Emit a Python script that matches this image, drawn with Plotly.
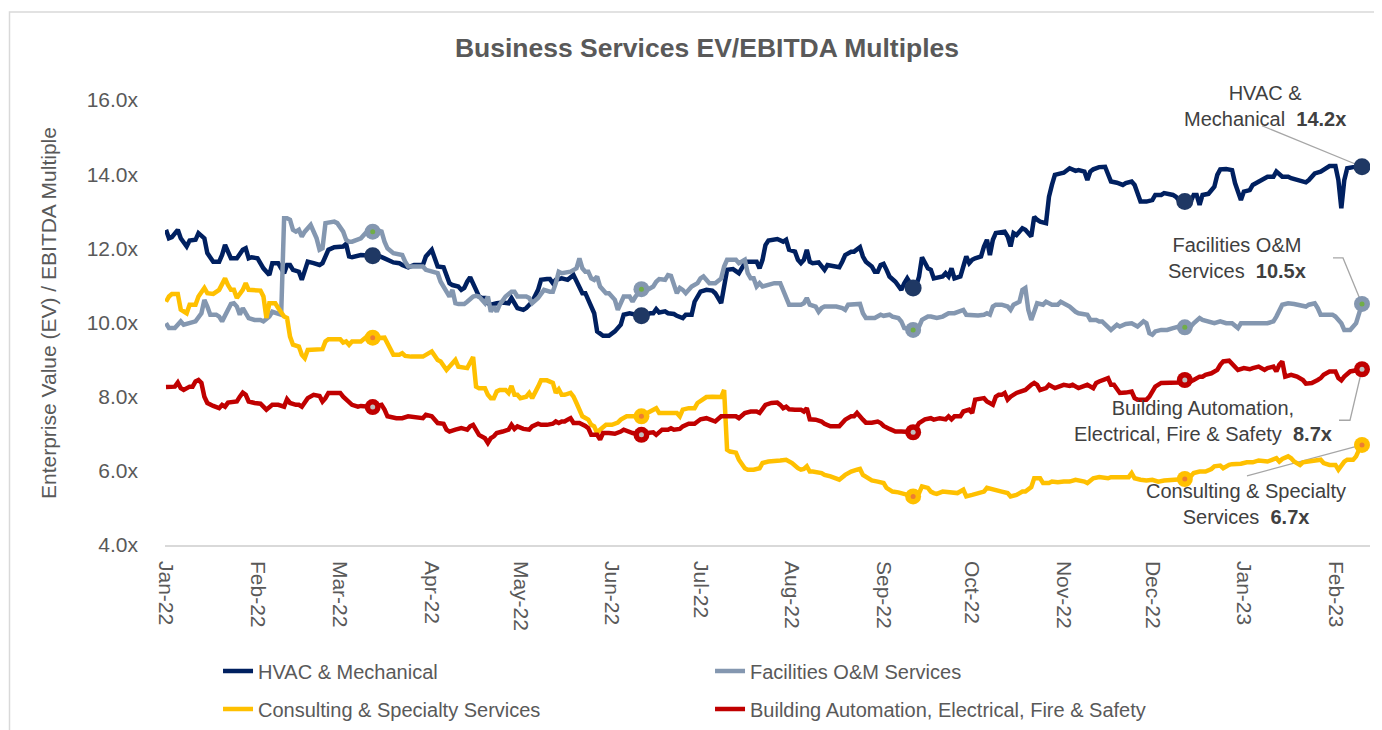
import plotly.graph_objects as go

# ---------------- data ----------------
HVAC = [
("2022-01-01",12.50),("2022-01-02",12.27),("2022-01-03",12.30),("2022-01-05",12.50),("2022-01-06",12.27),
("2022-01-08",12.05),("2022-01-09",12.21),("2022-01-11",12.23),("2022-01-12",12.41),("2022-01-14",12.27),
("2022-01-15",11.87),("2022-01-17",11.64),("2022-01-19",11.64),("2022-01-20",11.82),("2022-01-21",12.09),
("2022-01-22",11.87),("2022-01-23",11.73),("2022-01-25",11.73),("2022-01-27",11.96),("2022-01-28",12.00),
("2022-01-29",11.73),("2022-01-30",11.76),("2022-02-01",11.73),("2022-02-03",11.46),("2022-02-05",11.28),
("2022-02-06",11.60),("2022-02-08",11.60),("2022-02-09",11.46),("2022-02-10",11.33),("2022-02-11",11.55),
("2022-02-12",11.55),("2022-02-13",11.42),("2022-02-15",11.37),("2022-02-16",11.15),("2022-02-17",11.42),
("2022-02-18",11.64),("2022-02-20",11.60),("2022-02-22",11.55),("2022-02-23",11.60),("2022-02-24",11.78),
("2022-02-25",11.96),("2022-02-27",12.03),("2022-03-02",12.05),("2022-03-03",12.12),("2022-03-04",11.78),
("2022-03-05",11.76),("2022-03-08",11.82),("2022-03-12",11.80),("2022-03-14",11.80),("2022-03-16",11.73),
("2022-03-17",11.69),("2022-03-19",11.62),("2022-03-21",11.60),("2022-03-22",11.55),("2022-03-24",11.49),
("2022-03-26",11.55),("2022-03-29",11.55),("2022-03-30",11.78),("2022-04-01",11.96),("2022-04-02",11.73),
("2022-04-03",11.51),("2022-04-05",11.49),("2022-04-06",11.28),("2022-04-07",11.06),("2022-04-08",11.01),
("2022-04-10",10.97),("2022-04-11",10.88),("2022-04-12",10.93),("2022-04-13",11.10),("2022-04-14",11.22),
("2022-04-16",10.88),("2022-04-17",10.70),("2022-04-18",10.66),("2022-04-19",10.66),("2022-04-20",10.52),
("2022-04-21",10.48),("2022-04-23",10.52),("2022-04-25",10.54),("2022-04-27",10.52),("2022-04-28",10.66),
("2022-04-30",10.39),("2022-05-02",10.34),("2022-05-03",10.39),("2022-05-05",10.56),("2022-05-07",10.88),
("2022-05-08",11.15),("2022-05-10",11.17),("2022-05-11",11.17),("2022-05-12",11.06),("2022-05-13",11.15),
("2022-05-15",11.19),("2022-05-17",11.15),("2022-05-19",11.28),("2022-05-20",11.10),("2022-05-21",10.97),
("2022-05-22",10.79),("2022-05-23",10.79),("2022-05-24",10.61),("2022-05-25",10.48),("2022-05-26",10.25),
("2022-05-27",9.76),("2022-05-29",9.64),("2022-05-31",9.64),("2022-06-02",9.76),("2022-06-04",9.94),
("2022-06-05",10.21),("2022-06-07",10.25),("2022-06-11",10.18),("2022-06-14",10.25),("2022-06-15",10.25),
("2022-06-16",10.36),("2022-06-17",10.27),("2022-06-19",10.30),("2022-06-20",10.25),("2022-06-22",10.23),
("2022-06-23",10.18),("2022-06-25",10.12),("2022-06-26",10.21),("2022-06-28",10.21),("2022-06-29",10.56),
("2022-07-01",10.83),("2022-07-03",10.88),("2022-07-05",10.86),("2022-07-06",10.79),("2022-07-08",10.52),
("2022-07-09",11.06),("2022-07-10",11.42),("2022-07-12",11.44),("2022-07-14",11.33),("2022-07-16",11.60),
("2022-07-17",11.64),("2022-07-20",11.64),("2022-07-21",11.46),("2022-07-22",11.69),("2022-07-23",12.09),
("2022-07-24",12.21),("2022-07-26",12.23),("2022-07-27",12.25),("2022-07-29",12.18),("2022-07-30",12.23),
("2022-07-31",11.96),("2022-08-02",11.91),("2022-08-03",11.69),("2022-08-04",11.60),("2022-08-05",11.69),
("2022-08-06",11.96),("2022-08-07",11.64),("2022-08-08",11.60),("2022-08-10",11.62),("2022-08-11",11.51),
("2022-08-12",11.42),("2022-08-13",11.55),("2022-08-15",11.51),("2022-08-17",11.49),("2022-08-18",11.64),
("2022-08-19",11.82),("2022-08-21",11.91),("2022-08-22",11.91),("2022-08-24",12.03),("2022-08-25",11.78),
("2022-08-26",11.64),("2022-08-28",11.51),("2022-08-29",11.37),("2022-08-30",11.37),("2022-08-31",11.55),
("2022-09-01",11.58),("2022-09-02",11.42),("2022-09-03",11.24),("2022-09-05",11.10),("2022-09-07",10.88),
("2022-09-08",11.06),("2022-09-09",11.19),("2022-09-10",11.06),("2022-09-11",10.93),("2022-09-12",10.97),
("2022-09-13",11.24),("2022-09-14",11.76),("2022-09-15",11.60),("2022-09-16",11.46),("2022-09-17",11.42),
("2022-09-18",11.19),("2022-09-21",11.24),("2022-09-22",11.33),("2022-09-23",11.24),("2022-09-24",11.46),
("2022-09-25",11.19),("2022-09-27",11.24),("2022-09-28",11.51),("2022-09-29",11.78),("2022-09-30",11.60),
("2022-10-01",11.69),("2022-10-02",11.73),("2022-10-04",11.78),("2022-10-05",12.05),("2022-10-06",12.23),
("2022-10-07",11.82),("2022-10-08",12.23),("2022-10-09",12.41),("2022-10-12",12.45),("2022-10-13",12.32),
("2022-10-14",12.05),("2022-10-15",12.41),("2022-10-16",12.36),("2022-10-18",12.54),("2022-10-19",12.50),
("2022-10-21",12.32),("2022-10-22",12.85),("2022-10-23",12.77),("2022-10-24",12.72),("2022-10-26",12.68),
("2022-10-27",13.39),("2022-10-28",13.71),("2022-10-29",13.98),("2022-10-31",14.02),("2022-11-01",14.04),
("2022-11-03",14.16),("2022-11-05",14.09),("2022-11-06",14.11),("2022-11-08",14.07),("2022-11-09",13.84),
("2022-11-10",14.07),("2022-11-11",14.13),("2022-11-13",14.19),("2022-11-15",14.20),("2022-11-16",14.02),
("2022-11-17",13.80),("2022-11-19",13.77),("2022-11-21",13.71),("2022-11-22",13.76),("2022-11-24",13.80),
("2022-11-25",13.71),("2022-11-26",13.44),("2022-11-27",13.26),("2022-11-29",13.26),("2022-12-01",13.30),
("2022-12-02",13.44),("2022-12-04",13.44),("2022-12-05",13.49),("2022-12-08",13.44),("2022-12-09",13.39),
("2022-12-10",13.30),("2022-12-12",13.26),("2022-12-14",13.26),("2022-12-15",13.44),("2022-12-16",13.44),
("2022-12-17",13.17),("2022-12-18",13.44),("2022-12-20",13.47),("2022-12-22",13.66),("2022-12-23",13.98),
("2022-12-24",14.13),("2022-12-26",14.14),("2022-12-28",14.11),("2022-12-29",13.76),("2022-12-31",13.30),
("2023-01-01",13.53),("2023-01-03",13.57),("2023-01-04",13.71),("2023-01-05",13.76),("2023-01-07",13.86),
("2023-01-09",13.93),("2023-01-11",13.93),("2023-01-12",14.07),("2023-01-14",13.93),("2023-01-16",13.93),
("2023-01-17",13.89),("2023-01-19",13.84),("2023-01-21",13.80),("2023-01-22",13.78),("2023-01-23",13.84),
("2023-01-25",14.02),("2023-01-27",14.07),("2023-01-29",14.19),("2023-01-30",14.22),("2023-02-01",14.22),
("2023-02-02",13.84),("2023-02-03",13.08),("2023-02-04",13.84),("2023-02-05",14.16),("2023-02-07",14.19),
("2023-02-10",14.20),
]

FACILITIES = [
("2022-01-01",9.98),("2022-01-02",9.85),("2022-01-04",9.85),("2022-01-05",9.94),("2022-01-06",10.03),
("2022-01-07",9.94),("2022-01-09",9.98),("2022-01-10",9.98),("2022-01-11",10.03),("2022-01-13",10.25),
("2022-01-14",10.61),("2022-01-15",10.43),("2022-01-16",10.21),("2022-01-18",10.21),("2022-01-19",10.16),
("2022-01-20",10.03),("2022-01-21",10.21),("2022-01-22",10.39),("2022-01-23",10.50),("2022-01-24",10.52),
("2022-01-25",10.43),("2022-01-26",10.21),("2022-01-27",10.39),("2022-01-28",10.25),("2022-01-29",10.12),
("2022-01-31",10.07),("2022-02-02",10.07),("2022-02-03",10.03),("2022-02-05",10.16),("2022-02-06",10.29),
("2022-02-08",10.25),("2022-02-09",10.21),("2022-02-10",12.81),("2022-02-11",12.81),("2022-02-12",12.77),
("2022-02-13",12.50),("2022-02-14",12.45),("2022-02-15",12.50),("2022-02-16",12.32),("2022-02-17",12.45),
("2022-02-19",12.63),("2022-02-20",12.41),("2022-02-21",12.27),("2022-02-22",11.96),("2022-02-23",12.00),
("2022-02-24",12.68),("2022-02-26",12.72),("2022-02-27",12.72),("2022-02-28",12.68),("2022-03-02",12.45),
("2022-03-03",12.23),("2022-03-04",12.18),("2022-03-05",12.18),("2022-03-07",12.23),("2022-03-08",12.27),
("2022-03-10",12.45),("2022-03-12",12.45),("2022-03-13",12.50),("2022-03-15",12.45),("2022-03-16",12.18),
("2022-03-17",12.00),("2022-03-19",11.87),("2022-03-20",11.85),("2022-03-22",11.82),("2022-03-23",11.64),
("2022-03-24",11.51),("2022-03-26",11.51),("2022-03-29",11.51),("2022-03-30",11.42),("2022-04-01",11.37),
("2022-04-03",11.33),("2022-04-04",11.10),("2022-04-06",10.79),("2022-04-07",10.70),("2022-04-08",10.88),
("2022-04-09",10.52),("2022-04-10",10.50),("2022-04-12",10.50),("2022-04-13",10.56),("2022-04-15",10.70),
("2022-04-16",10.72),("2022-04-17",10.70),("2022-04-19",10.52),("2022-04-20",10.70),("2022-04-21",10.29),
("2022-04-22",10.43),("2022-04-23",10.29),("2022-04-24",10.48),("2022-04-26",10.70),("2022-04-28",10.83),
("2022-04-29",10.83),("2022-04-30",10.70),("2022-05-01",10.70),("2022-05-03",10.70),("2022-05-04",10.66),
("2022-05-05",10.52),("2022-05-07",10.66),("2022-05-08",10.79),("2022-05-09",10.88),("2022-05-11",10.83),
("2022-05-12",10.83),("2022-05-13",11.06),("2022-05-14",11.37),("2022-05-15",11.33),("2022-05-17",11.35),
("2022-05-18",11.37),("2022-05-20",11.46),("2022-05-21",11.73),("2022-05-22",11.46),("2022-05-23",11.37),
("2022-05-24",11.37),("2022-05-25",11.19),("2022-05-26",11.15),("2022-05-27",11.24),("2022-05-28",10.97),
("2022-05-30",10.79),("2022-05-31",10.79),("2022-06-02",10.61),("2022-06-03",10.34),("2022-06-04",10.56),
("2022-06-05",10.70),("2022-06-07",10.70),("2022-06-08",10.56),("2022-06-09",10.70),("2022-06-11",10.90),
("2022-06-13",10.88),("2022-06-15",10.97),("2022-06-16",11.10),("2022-06-17",11.17),("2022-06-19",11.15),
("2022-06-20",11.28),("2022-06-21",11.26),("2022-06-22",11.06),("2022-06-23",10.79),("2022-06-24",10.93),
("2022-06-25",10.88),("2022-06-26",10.79),("2022-06-28",10.97),("2022-06-30",11.06),("2022-07-01",11.19),
("2022-07-02",11.24),("2022-07-04",11.06),("2022-07-06",11.06),("2022-07-08",11.19),("2022-07-09",11.51),
("2022-07-10",11.69),("2022-07-13",11.69),("2022-07-14",11.60),("2022-07-16",11.69),("2022-07-17",11.33),
("2022-07-18",11.19),("2022-07-19",11.19),("2022-07-20",10.97),("2022-07-21",11.06),("2022-07-22",10.97),
("2022-07-24",11.01),("2022-07-26",11.06),("2022-07-28",11.06),("2022-07-29",10.88),("2022-07-30",10.70),
("2022-07-31",10.48),("2022-08-01",10.48),("2022-08-04",10.48),("2022-08-05",10.52),("2022-08-06",10.66),
("2022-08-07",10.48),("2022-08-09",10.43),("2022-08-10",10.29),("2022-08-11",10.39),("2022-08-12",10.43),
("2022-08-14",10.43),("2022-08-16",10.43),("2022-08-18",10.39),("2022-08-19",10.34),("2022-08-20",10.48),
("2022-08-22",10.50),("2022-08-24",10.50),("2022-08-25",10.25),("2022-08-26",10.12),("2022-08-29",10.12),
("2022-08-30",10.16),("2022-08-31",10.21),("2022-09-01",10.18),("2022-09-03",10.21),("2022-09-04",10.16),
("2022-09-06",10.12),("2022-09-07",10.03),("2022-09-08",9.85),("2022-09-11",9.80),("2022-09-13",9.89),
("2022-09-14",10.07),("2022-09-16",10.16),("2022-09-17",10.16),("2022-09-19",10.12),("2022-09-21",10.16),
("2022-09-23",10.25),("2022-09-25",10.25),("2022-09-27",10.29),("2022-09-28",10.34),("2022-09-29",10.21),
("2022-10-01",10.19),("2022-10-03",10.19),("2022-10-05",10.21),("2022-10-06",10.25),("2022-10-07",10.21),
("2022-10-08",10.43),("2022-10-09",10.48),("2022-10-11",10.48),("2022-10-13",10.43),("2022-10-14",10.34),
("2022-10-15",10.48),("2022-10-17",10.56),("2022-10-18",10.88),("2022-10-19",10.93),("2022-10-20",10.34),
("2022-10-21",10.07),("2022-10-22",10.29),("2022-10-23",10.52),("2022-10-25",10.48),("2022-10-26",10.56),
("2022-10-28",10.48),("2022-10-30",10.48),("2022-10-31",10.56),("2022-11-02",10.48),("2022-11-03",10.43),
("2022-11-05",10.29),("2022-11-06",10.25),("2022-11-09",10.21),("2022-11-10",10.07),("2022-11-12",10.07),
("2022-11-13",10.03),("2022-11-14",10.03),("2022-11-16",9.89),("2022-11-17",9.80),("2022-11-19",9.94),
("2022-11-20",9.89),("2022-11-22",9.96),("2022-11-24",9.98),("2022-11-26",9.89),("2022-11-28",10.03),
("2022-11-29",9.98),("2022-11-30",9.71),("2022-12-01",9.67),("2022-12-02",9.76),("2022-12-04",9.80),
("2022-12-06",9.80),("2022-12-08",9.85),("2022-12-10",9.89),("2022-12-12",9.87),("2022-12-14",9.89),
("2022-12-15",9.98),("2022-12-17",10.12),("2022-12-18",10.07),("2022-12-20",10.03),("2022-12-22",9.98),
("2022-12-24",10.03),("2022-12-26",9.98),("2022-12-28",9.98),("2022-12-30",9.85),("2022-12-31",9.98),
("2023-01-02",9.98),("2023-01-04",9.98),("2023-01-06",10.00),("2023-01-09",9.98),("2023-01-11",10.03),
("2023-01-12",10.16),("2023-01-14",10.48),("2023-01-16",10.52),("2023-01-18",10.50),("2023-01-20",10.48),
("2023-01-22",10.43),("2023-01-23",10.48),("2023-01-25",10.52),("2023-01-26",10.39),("2023-01-27",10.21),
("2023-01-29",10.21),("2023-01-31",10.21),("2023-02-01",10.16),("2023-02-03",9.98),("2023-02-04",9.80),
("2023-02-06",9.80),("2023-02-08",9.98),("2023-02-09",10.29),("2023-02-10",10.50),
]

CONSULTING = [
("2022-01-01",10.56),("2022-01-02",10.70),("2022-01-03",10.77),("2022-01-05",10.77),("2022-01-06",10.35),
("2022-01-07",10.29),("2022-01-08",10.25),("2022-01-09",10.48),("2022-01-11",10.48),("2022-01-12",10.70),
("2022-01-14",10.93),("2022-01-15",10.79),("2022-01-17",10.77),("2022-01-19",10.88),("2022-01-20",11.06),
("2022-01-21",11.19),("2022-01-22",11.01),("2022-01-23",10.88),("2022-01-24",10.88),("2022-01-25",10.66),
("2022-01-27",10.88),("2022-01-28",11.06),("2022-01-29",10.88),("2022-01-31",10.86),("2022-02-02",10.86),
("2022-02-03",10.70),("2022-02-04",10.12),("2022-02-05",10.52),("2022-02-07",10.52),("2022-02-08",10.39),
("2022-02-10",10.16),("2022-02-11",10.12),("2022-02-12",9.62),("2022-02-13",9.40),("2022-02-15",9.35),
("2022-02-16",9.13),("2022-02-17",9.04),("2022-02-18",9.26),("2022-02-21",9.26),("2022-02-23",9.28),
("2022-02-24",9.49),("2022-02-25",9.55),("2022-03-01",9.55),("2022-03-02",9.46),("2022-03-03",9.49),
("2022-03-04",9.40),("2022-03-05",9.49),("2022-03-08",9.49),("2022-03-10",9.62),("2022-03-12",9.59),
("2022-03-14",9.58),("2022-03-16",9.59),("2022-03-17",9.44),("2022-03-18",9.26),("2022-03-19",9.13),
("2022-03-21",9.13),("2022-03-22",9.17),("2022-03-23",9.10),("2022-03-25",9.08),("2022-03-29",9.08),
("2022-04-01",9.22),("2022-04-03",8.99),("2022-04-04",8.95),("2022-04-06",8.72),("2022-04-09",8.99),
("2022-04-10",8.81),("2022-04-12",8.77),("2022-04-13",8.77),("2022-04-15",9.07),("2022-04-16",8.27),
("2022-04-17",8.23),("2022-04-19",8.23),("2022-04-20",8.05),("2022-04-21",7.96),("2022-04-22",7.96),
("2022-04-23",8.14),("2022-04-24",8.18),("2022-04-26",8.18),("2022-04-27",8.10),("2022-04-28",8.29),
("2022-04-29",8.05),("2022-04-30",8.05),("2022-05-01",7.96),("2022-05-03",8.00),("2022-05-04",8.10),
("2022-05-05",7.96),("2022-05-07",8.27),("2022-05-08",8.44),("2022-05-10",8.44),("2022-05-12",8.37),
("2022-05-13",8.10),("2022-05-14",8.20),("2022-05-15",8.05),("2022-05-16",8.05),("2022-05-18",8.10),
("2022-05-19",8.00),("2022-05-20",7.83),("2022-05-21",7.65),("2022-05-22",7.47),("2022-05-24",7.38),
("2022-05-25",7.24),("2022-05-26",7.20),("2022-05-27",7.02),("2022-05-28",7.11),("2022-05-30",7.24),
("2022-06-01",7.24),("2022-06-03",7.30),("2022-06-04",7.38),("2022-06-06",7.47),("2022-06-09",7.47),
("2022-06-11",7.47),("2022-06-13",7.56),("2022-06-15",7.65),("2022-06-16",7.69),("2022-06-17",7.56),
("2022-06-19",7.56),("2022-06-22",7.58),("2022-06-23",7.56),("2022-06-24",7.47),("2022-06-25",7.65),
("2022-06-27",7.69),("2022-06-29",7.69),("2022-06-30",7.83),("2022-07-02",7.96),("2022-07-03",7.99),
("2022-07-05",8.00),("2022-07-06",8.00),("2022-07-08",7.99),("2022-07-09",8.18),("2022-07-10",6.57),
("2022-07-11",6.52),("2022-07-13",6.49),("2022-07-14",6.30),("2022-07-16",6.07),("2022-07-17",6.03),
("2022-07-19",6.03),("2022-07-21",6.07),("2022-07-22",6.21),("2022-07-24",6.25),("2022-07-26",6.25),
("2022-07-28",6.28),("2022-07-30",6.30),("2022-07-31",6.25),("2022-08-01",6.21),("2022-08-03",6.07),
("2022-08-04",6.03),("2022-08-05",6.05),("2022-08-06",6.12),("2022-08-07",5.98),("2022-08-08",5.98),
("2022-08-11",5.94),("2022-08-12",5.89),("2022-08-14",5.85),("2022-08-16",5.80),("2022-08-17",5.76),
("2022-08-19",5.89),("2022-08-21",5.98),("2022-08-23",6.03),("2022-08-24",6.05),("2022-08-25",5.89),
("2022-08-27",5.80),("2022-08-28",5.74),("2022-08-30",5.71),("2022-09-01",5.67),("2022-09-02",5.54),
("2022-09-04",5.44),("2022-09-06",5.42),("2022-09-08",5.38),("2022-09-11",5.31),("2022-09-13",5.40),
("2022-09-14",5.58),("2022-09-16",5.54),("2022-09-17",5.44),("2022-09-18",5.40),("2022-09-19",5.38),
("2022-09-21",5.44),("2022-09-23",5.42),("2022-09-26",5.40),("2022-09-28",5.49),("2022-09-29",5.31),
("2022-10-01",5.35),("2022-10-03",5.40),("2022-10-05",5.44),("2022-10-06",5.54),("2022-10-08",5.49),
("2022-10-10",5.44),("2022-10-11",5.44),("2022-10-13",5.40),("2022-10-14",5.31),("2022-10-16",5.35),
("2022-10-18",5.44),("2022-10-19",5.44),("2022-10-21",5.56),("2022-10-22",5.80),("2022-10-24",5.80),
("2022-10-25",5.67),("2022-10-27",5.67),("2022-10-28",5.71),("2022-10-30",5.69),("2022-11-01",5.71),
("2022-11-03",5.71),("2022-11-05",5.76),("2022-11-07",5.74),("2022-11-08",5.71),("2022-11-09",5.67),
("2022-11-11",5.80),("2022-11-13",5.83),("2022-11-16",5.80),("2022-11-17",5.83),("2022-11-19",5.83),
("2022-11-21",5.80),("2022-11-23",5.83),("2022-11-24",5.94),("2022-11-25",5.80),("2022-11-27",5.76),
("2022-11-29",5.74),("2022-12-01",5.76),("2022-12-03",5.71),("2022-12-05",5.74),("2022-12-07",5.76),
("2022-12-08",5.74),("2022-12-10",5.76),("2022-12-12",5.78),("2022-12-14",5.85),("2022-12-15",5.94),
("2022-12-17",5.98),("2022-12-19",5.98),("2022-12-21",6.05),("2022-12-22",6.12),("2022-12-24",6.14),
("2022-12-25",6.07),("2022-12-27",6.16),("2022-12-28",6.18),("2022-12-31",6.19),("2023-01-02",6.23),
("2023-01-04",6.23),("2023-01-06",6.28),("2023-01-09",6.25),("2023-01-11",6.30),("2023-01-12",6.34),
("2023-01-13",6.25),("2023-01-14",6.32),("2023-01-16",6.39),("2023-01-17",6.34),("2023-01-18",6.25),
("2023-01-20",6.16),("2023-01-21",6.23),("2023-01-23",6.25),("2023-01-25",6.30),("2023-01-26",6.28),
("2023-01-27",6.30),("2023-01-28",6.21),("2023-01-30",6.16),("2023-02-01",6.16),("2023-02-02",6.03),
("2023-02-04",6.25),("2023-02-05",6.30),("2023-02-07",6.30),("2023-02-08",6.39),("2023-02-09",6.57),
("2023-02-10",6.70),
]

BUILDING = [
("2022-01-01",8.26),("2022-01-02",8.26),("2022-01-04",8.27),("2022-01-05",8.38),("2022-01-06",8.23),
("2022-01-07",8.18),("2022-01-09",8.27),("2022-01-10",8.27),("2022-01-11",8.41),("2022-01-12",8.45),
("2022-01-13",8.37),("2022-01-14",8.00),("2022-01-15",7.83),("2022-01-17",7.75),("2022-01-19",7.69),
("2022-01-20",7.78),("2022-01-21",7.73),("2022-01-22",7.84),("2022-01-23",7.84),("2022-01-25",7.87),
("2022-01-26",8.00),("2022-01-27",8.11),("2022-01-28",8.05),("2022-01-29",7.87),("2022-01-31",7.83),
("2022-02-02",7.81),("2022-02-04",7.65),("2022-02-05",7.73),("2022-02-06",7.78),("2022-02-08",7.78),
("2022-02-10",7.73),("2022-02-11",7.93),("2022-02-12",7.83),("2022-02-14",7.78),("2022-02-15",7.78),
("2022-02-16",7.73),("2022-02-17",7.87),("2022-02-18",7.96),("2022-02-20",8.05),("2022-02-22",8.02),
("2022-02-23",7.87),("2022-02-24",7.96),("2022-02-25",8.10),("2022-02-27",8.11),("2022-03-01",8.10),
("2022-03-02",8.00),("2022-03-04",7.83),("2022-03-05",7.78),("2022-03-07",7.73),("2022-03-08",7.75),
("2022-03-12",7.72),("2022-03-14",7.75),("2022-03-15",7.78),("2022-03-16",7.65),("2022-03-17",7.47),
("2022-03-20",7.42),("2022-03-22",7.42),("2022-03-24",7.47),("2022-03-26",7.45),("2022-03-29",7.42),
("2022-03-30",7.51),("2022-04-01",7.47),("2022-04-03",7.29),("2022-04-05",7.27),("2022-04-06",7.11),
("2022-04-07",7.06),("2022-04-09",7.11),("2022-04-11",7.15),("2022-04-12",7.13),("2022-04-13",7.11),
("2022-04-14",7.20),("2022-04-15",7.24),("2022-04-17",6.97),("2022-04-18",6.93),("2022-04-19",6.88),
("2022-04-20",6.75),("2022-04-21",6.88),("2022-04-22",6.93),("2022-04-23",7.02),("2022-04-25",7.06),
("2022-04-27",7.11),("2022-04-28",7.24),("2022-04-29",7.13),("2022-04-30",7.20),("2022-05-02",7.13),
("2022-05-04",7.11),("2022-05-05",7.20),("2022-05-07",7.27),("2022-05-08",7.24),("2022-05-10",7.24),
("2022-05-12",7.27),("2022-05-13",7.33),("2022-05-14",7.29),("2022-05-15",7.33),("2022-05-16",7.33),
("2022-05-17",7.38),("2022-05-18",7.42),("2022-05-19",7.29),("2022-05-21",7.29),("2022-05-23",7.21),
("2022-05-24",7.15),("2022-05-25",6.97),("2022-05-27",6.97),("2022-05-28",6.84),("2022-05-29",7.02),
("2022-05-31",7.02),("2022-06-02",7.00),("2022-06-04",7.06),("2022-06-05",7.11),("2022-06-08",7.02),
("2022-06-11",6.97),("2022-06-13",7.02),("2022-06-15",7.04),("2022-06-16",6.97),("2022-06-18",7.11),
("2022-06-20",7.11),("2022-06-21",7.15),("2022-06-22",7.11),("2022-06-24",7.13),("2022-06-25",7.20),
("2022-06-27",7.27),("2022-06-29",7.27),("2022-06-30",7.33),("2022-07-01",7.39),("2022-07-03",7.42),
("2022-07-04",7.38),("2022-07-06",7.33),("2022-07-08",7.47),("2022-07-10",7.48),("2022-07-12",7.47),
("2022-07-13",7.47),("2022-07-14",7.42),("2022-07-15",7.51),("2022-07-16",7.56),("2022-07-18",7.60),
("2022-07-20",7.60),("2022-07-21",7.56),("2022-07-22",7.65),("2022-07-23",7.78),("2022-07-25",7.83),
("2022-07-27",7.84),("2022-07-28",7.78),("2022-07-29",7.69),("2022-07-30",7.73),("2022-07-31",7.66),
("2022-08-02",7.65),("2022-08-04",7.65),("2022-08-05",7.60),("2022-08-06",7.69),("2022-08-07",7.39),
("2022-08-09",7.38),("2022-08-11",7.33),("2022-08-12",7.27),("2022-08-14",7.20),("2022-08-16",7.18),
("2022-08-17",7.20),("2022-08-19",7.38),("2022-08-21",7.47),("2022-08-22",7.47),("2022-08-23",7.56),
("2022-08-25",7.38),("2022-08-26",7.30),("2022-08-28",7.30),("2022-08-30",7.33),("2022-08-31",7.29),
("2022-09-01",7.21),("2022-09-03",7.13),("2022-09-05",7.06),("2022-09-07",7.06),("2022-09-09",7.04),
("2022-09-11",7.04),("2022-09-12",7.15),("2022-09-13",7.29),("2022-09-15",7.39),("2022-09-17",7.42),
("2022-09-18",7.38),("2022-09-20",7.42),("2022-09-22",7.39),("2022-09-23",7.47),("2022-09-24",7.39),
("2022-09-25",7.47),("2022-09-27",7.47),("2022-09-28",7.60),("2022-09-30",7.65),("2022-10-01",7.56),
("2022-10-02",7.92),("2022-10-04",7.96),("2022-10-05",7.96),("2022-10-06",7.87),("2022-10-08",7.78),
("2022-10-09",8.00),("2022-10-10",8.05),("2022-10-11",8.05),("2022-10-12",8.10),("2022-10-13",7.92),
("2022-10-14",8.00),("2022-10-16",8.10),("2022-10-18",8.14),("2022-10-19",8.18),("2022-10-21",8.32),
("2022-10-22",8.37),("2022-10-23",8.32),("2022-10-24",8.18),("2022-10-26",8.23),("2022-10-27",8.32),
("2022-10-29",8.23),("2022-10-30",8.27),("2022-11-01",8.32),("2022-11-03",8.29),("2022-11-04",8.32),
("2022-11-06",8.23),("2022-11-08",8.27),("2022-11-09",8.32),("2022-11-11",8.23),("2022-11-12",8.37),
("2022-11-13",8.41),("2022-11-15",8.45),("2022-11-16",8.50),("2022-11-17",8.32),("2022-11-18",8.32),
("2022-11-20",8.10),("2022-11-21",8.10),("2022-11-22",8.11),("2022-11-24",8.14),("2022-11-25",7.96),
("2022-11-26",7.92),("2022-11-29",7.92),("2022-11-30",8.00),("2022-12-01",8.14),("2022-12-02",8.27),
("2022-12-04",8.37),("2022-12-06",8.37),("2022-12-08",8.37),("2022-12-10",8.38),("2022-12-12",8.45),
("2022-12-14",8.41),("2022-12-15",8.45),("2022-12-17",8.54),("2022-12-18",8.54),("2022-12-19",8.59),
("2022-12-21",8.63),("2022-12-23",8.72),("2022-12-24",8.86),("2022-12-25",8.95),("2022-12-27",8.97),
("2022-12-28",8.90),("2022-12-30",8.72),("2023-01-01",8.77),("2023-01-03",8.74),("2023-01-04",8.77),
("2023-01-06",8.81),("2023-01-08",8.72),("2023-01-09",8.77),("2023-01-11",8.81),("2023-01-12",8.68),
("2023-01-13",8.86),("2023-01-14",8.95),("2023-01-15",8.54),("2023-01-17",8.59),("2023-01-19",8.54),
("2023-01-21",8.45),("2023-01-22",8.35),("2023-01-24",8.37),("2023-01-26",8.45),("2023-01-27",8.50),
("2023-01-28",8.59),("2023-01-30",8.68),("2023-02-01",8.68),("2023-02-02",8.50),("2023-02-03",8.44),
("2023-02-04",8.54),("2023-02-06",8.68),("2023-02-08",8.72),("2023-02-10",8.74),
]

SERIES_NAMES = ["HVAC & Mechanical", "Facilities O&M Services",
                "Consulting & Specialty Services", "Building Automation, Electrical, Fire & Safety"]
MARKER_DATES = ["2022-03-12", "2022-06-11", "2022-09-11", "2022-12-12", "2023-02-10"]
TICK_DATES = ["2022-01-01", "2022-02-01", "2022-03-01", "2022-04-01", "2022-05-01", "2022-06-01",
              "2022-07-01", "2022-08-01", "2022-09-01", "2022-10-01", "2022-11-01", "2022-12-01",
              "2023-01-01", "2023-02-01"]
TICK_LABELS = ["Jan-22", "Feb-22", "Mar-22", "Apr-22", "May-22", "Jun-22", "Jul-22", "Aug-22",
               "Sep-22", "Oct-22", "Nov-22", "Dec-22", "Jan-23", "Feb-23"]
Y_TICKS = [4, 6, 8, 10, 12, 14, 16]
Y_LABELS = ["4.0x", "6.0x", "8.0x", "10.0x", "12.0x", "14.0x", "16.0x"]
CALLOUT_TEXT = ["HVAC &<br>Mechanical  <b>14.2x</b>",
                "Facilities O&M<br>Services  <b>10.5x</b>",
                "Consulting & Specialty<br>Services  <b>6.7x</b>",
                "Building Automation,<br>Electrical, Fire & Safety  <b>8.7x</b>"]

# ---------------- styling ----------------
FONT = "Liberation Sans, Arial, sans-serif"
GREY_TXT = "#595959"
OFF = 8  # page body margin offset compensation (px)
W, H = 1382 - OFF, 730 - OFF
PLOT_L, PLOT_R, PLOT_T, PLOT_B = 165, 1370, 100, 545   # target screen pixels
PW, PH = PLOT_R - PLOT_L, PLOT_B - PLOT_T

styles = [
    dict(line="#002060", marker="#1F3864", dot=None, legend="legend", size=17),
    dict(line="#8497B0", marker="#8497B0", dot="#70AD47", legend="legend", size=16),
    dict(line="#FFC000", marker="#FFC000", dot="#ED7D31", legend="legend2", size=16),
    dict(line="#C00000", marker="#C00000", dot="#BFBFBF", legend="legend2", size=16),
]
callout_shift = [(-97, 61), (-125, 46), (-116, -59), (-159, -52)]
leader_paths = ["M 0 0 L -100 41", "M 0 0 L -19 46 L -29 46",
                "M 0 0 L -115 -31", "M 0 0 L -12 -51 L -23 -51"]

all_series = [HVAC, FACILITIES, CONSULTING, BUILDING]

fig = go.Figure()
for name, data, st in zip(SERIES_NAMES, all_series, styles):
    dates = [d for d, _ in data]
    vals = [v for _, v in data]
    fig.add_trace(go.Scatter(x=dates, y=vals, mode="lines", name=name,
                             line=dict(color=st["line"], width=4.5),
                             legend=st["legend"], hoverinfo="skip"))

for name, data, st in zip(SERIES_NAMES, all_series, styles):
    lookup = dict(data)
    my = [lookup[d] for d in MARKER_DATES]
    fig.add_trace(go.Scatter(x=MARKER_DATES, y=my, mode="markers", showlegend=False,
                             marker=dict(color=st["marker"], size=st["size"], line=dict(width=0)),
                             hoverinfo="skip"))
    if st["dot"]:
        fig.add_trace(go.Scatter(x=MARKER_DATES, y=my, mode="markers", showlegend=False,
                                 marker=dict(color=st["dot"], size=5, line=dict(width=0)),
                                 hoverinfo="skip"))

shapes = []
annotations = []
for data, text, (dx, dy), path in zip(all_series, CALLOUT_TEXT, callout_shift, leader_paths):
    last_d, last_v = data[-1]
    shapes.append(dict(type="path", xref="x", yref="y", xsizemode="pixel", ysizemode="pixel",
                       xanchor=last_d, yanchor=last_v, path=path,
                       line=dict(color="#A6A6A6", width=1.3), layer="below"))
    annotations.append(dict(xref="x", yref="y", x=last_d, y=last_v, xshift=dx, yshift=dy,
                            text=text, showarrow=False, align="center",
                            xanchor="center", yanchor="middle",
                            font=dict(family=FONT, size=20, color="#404040")))

# y-axis title
annotations.append(dict(xref="paper", yref="paper", x=(48 - PLOT_L) / PW, y=(PLOT_B - 313) / PH,
                        text="Enterprise Value (EV) / EBITDA Multiple", textangle=-90,
                        showarrow=False, xanchor="center", yanchor="middle",
                        font=dict(family=FONT, size=21, color=GREY_TXT)))

# outer chart border
shapes.append(dict(type="rect", xref="paper", yref="paper",
                   x0=(9.5 - PLOT_L) / PW, x1=1.05, y0=(PLOT_B - 760) / PH, y1=(PLOT_B - 12) / PH,
                   line=dict(color="#D9D9D9", width=1.5), fillcolor="rgba(0,0,0,0)", layer="below"))

fig.update_layout(
    width=W, height=H,
    margin=dict(l=PLOT_L - OFF, r=W - (PLOT_R - OFF), t=PLOT_T - OFF, b=H - (PLOT_B - OFF),
                autoexpand=False),
    paper_bgcolor="white", plot_bgcolor="white",
    font=dict(family=FONT, color=GREY_TXT),
    title=dict(text="<b>Business Services EV/EBITDA Multiples</b>", x=(707 - OFF) / W, xanchor="center",
               xref="container", y=1 - (48 - OFF) / H, yanchor="middle", yref="container",
               font=dict(family=FONT, size=26.5, color=GREY_TXT)),
    xaxis=dict(type="date", range=["2021-12-31 16:00", "2023-02-12 17:00"],
               tickvals=TICK_DATES, ticktext=TICK_LABELS, tickangle=90,
               tickfont=dict(family=FONT, size=21, color=GREY_TXT),
               showgrid=False, zeroline=False, showline=True, linecolor="#D9D9D9", linewidth=1.5,
               ticks="", ticklabelstandoff=10),
    yaxis=dict(range=[4, 16], tickvals=Y_TICKS, ticktext=Y_LABELS,
               tickfont=dict(family=FONT, size=21, color=GREY_TXT),
               showgrid=False, zeroline=False, showline=False, ticks="", ticklabelstandoff=26),
    legend=dict(orientation="h", x=0.044, xanchor="left", y=(PLOT_B - 671) / PH, yanchor="middle",
                entrywidth=447, entrywidthmode="pixels", traceorder="normal",
                font=dict(family=FONT, size=20, color=GREY_TXT), bgcolor="rgba(0,0,0,0)"),
    legend2=dict(orientation="h", x=0.044, xanchor="left", y=(PLOT_B - 709) / PH, yanchor="middle",
                 entrywidth=447, entrywidthmode="pixels", traceorder="normal",
                 font=dict(family=FONT, size=20, color=GREY_TXT), bgcolor="rgba(0,0,0,0)"),
    shapes=shapes, annotations=annotations,
    showlegend=True,
)

fig.write_html("out.html")
